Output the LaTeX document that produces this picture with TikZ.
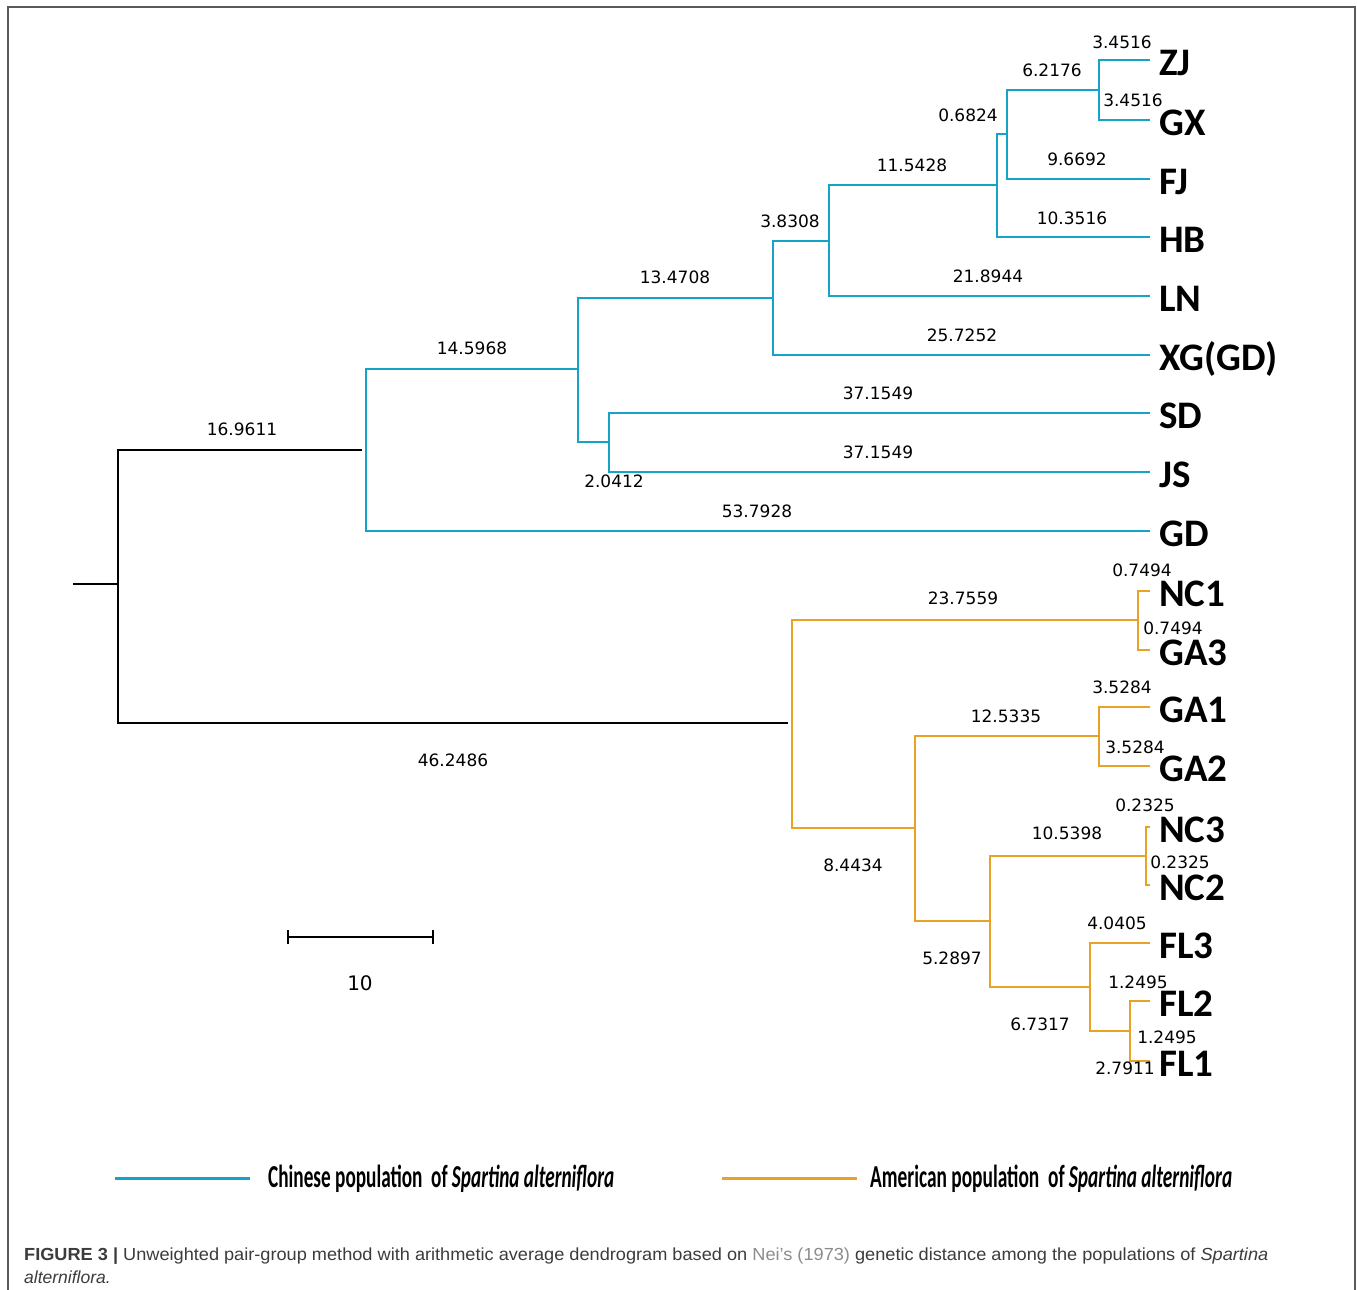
\documentclass[tikz,border=0pt]{standalone}
\usepackage{fontspec}
\usepackage{graphicx}
\setmainfont{Liberation Sans}
\newfontfamily\leaffont{Carlito}
\newfontfamily\numfont{DejaVu Sans}
\usetikzlibrary{arrows.meta}
\definecolor{cn}{RGB}{22,163,200}
\definecolor{us}{RGB}{232,162,38}
\definecolor{framec}{RGB}{90,90,90}
\definecolor{capgray}{RGB}{60,60,60}
\definecolor{neigray}{RGB}{140,140,140}
\begin{document}
\begin{tikzpicture}[x=1pt,y=-1pt,
  cnl/.style={draw=cn, line width=2.6pt},
  usl/.style={draw=us, line width=2.6pt},
  bkl/.style={draw=black, line width=2.6pt},
  leaf/.style={anchor=west, inner xsep=9pt, inner ysep=0pt, font=\leaffont\bfseries\fontsize{39}{39}\selectfont, text height=31pt, text depth=0pt},
  blen/.style={inner sep=0pt, font=\numfont\fontsize{17}{17}\selectfont, text height=12.4pt, text depth=0pt},
  legtext/.style={anchor=west, inner sep=0pt},
]
\useasboundingbox (0,0) rectangle (1357,1290);
\fill[white] (0,0) rectangle (1357,1290);

% frame
\coordinate (f1) at (8,1290);
\coordinate (f2) at (8,7);
\coordinate (f3) at (1355,7);
\coordinate (f4) at (1355,1290);
\draw[framec, line width=1.3pt] (f1) -- (f2) -- (f3) -- (f4);

% leaves
\node[leaf] (ZJ)  at (1150,60)  {ZJ};
\node[leaf] (GX)  at (1150,120) {GX};
\node[leaf] (FJ)  at (1150,179) {FJ};
\node[leaf] (HB)  at (1150,237) {HB};
\node[leaf] (LN)  at (1150,296) {LN};
\node[leaf] (XG)  at (1150,355) {XG(GD)};
\node[leaf] (SD)  at (1150,413) {SD};
\node[leaf] (JS)  at (1150,472) {JS};
\node[leaf] (GD)  at (1150,531) {GD};
\node[leaf] (NC1) at (1150,591) {NC1};
\node[leaf] (GA3) at (1150,650) {GA3};
\node[leaf] (GA1) at (1150,707) {GA1};
\node[leaf] (GA2) at (1150,766) {GA2};
\node[leaf] (NC3) at (1150,827) {NC3};
\node[leaf] (NC2) at (1150,885) {NC2};
\node[leaf] (FL3) at (1150,943) {FL3};
\node[leaf] (FL2) at (1150,1001) {FL2};
\node[leaf] (FL1) at (1150,1061) {FL1};

% internal nodes
\coordinate (stub) at (73,584);
\coordinate (root) at (118,584);
\coordinate (a1) at (1099,90);
\coordinate (a2) at (1007,134);
\coordinate (a3) at (997,185);
\coordinate (a4) at (829,241);
\coordinate (a5) at (773,298);
\coordinate (a6) at (609,442);
\coordinate (a7) at (578,369);
\coordinate (a8) at (366,450);
\coordinate (b1) at (1138,620);
\coordinate (b2) at (1099,736);
\coordinate (b3) at (1146,856);
\coordinate (b4) at (1130,1031);
\coordinate (b5) at (1090,987);
\coordinate (b6) at (990,921);
\coordinate (b7) at (915,828);
\coordinate (b8) at (792,723);

% black root
\draw[bkl] (stub) -- (root);
\draw[bkl, shorten >=4pt] (root) |- (a8);
\draw[bkl, shorten >=4pt] (root) |- (b8);

% Chinese clade
\draw[cnl] (a1) |- (ZJ.west);
\draw[cnl] (a1) |- (GX.west);
\draw[cnl] (a2) |- (a1);
\draw[cnl] (a2) |- (FJ.west);
\draw[cnl] (a3) |- (a2);
\draw[cnl] (a3) |- (HB.west);
\draw[cnl] (a4) |- (a3);
\draw[cnl] (a4) |- (LN.west);
\draw[cnl] (a5) |- (a4);
\draw[cnl] (a5) |- (XG.west);
\draw[cnl] (a6) |- (SD.west);
\draw[cnl] (a6) |- (JS.west);
\draw[cnl] (a7) |- (a5);
\draw[cnl] (a7) |- (a6);
\draw[cnl] (a8) |- (a7);
\draw[cnl] (a8) |- (GD.west);

% American clade
\draw[usl] (b1) |- (NC1.west);
\draw[usl] (b1) |- (GA3.west);
\draw[usl] (b2) |- (GA1.west);
\draw[usl] (b2) |- (GA2.west);
\draw[usl] (b3) |- (NC3.west);
\draw[usl] (b3) |- (NC2.west);
\draw[usl] (b4) |- (FL2.west);
\draw[usl] (b4) |- (FL1.west);
\draw[usl] (b5) |- (FL3.west);
\draw[usl] (b5) |- (b4);
\draw[usl] (b6) |- (b3);
\draw[usl] (b6) |- (b5);
\draw[usl] (b7) |- (b2);
\draw[usl] (b7) |- (b6);
\draw[usl] (b8) |- (b1);
\draw[usl] (b8) |- (b7);

% branch lengths
\node[blen] (l01) at (242,429) {16.9611};
\node[blen] (l02) at (453,760) {46.2486};
\node[blen] (l03) at (472,348) {14.5968};
\node[blen] (l04) at (757,511) {53.7928};
\node[blen] (l05) at (675,277) {13.4708};
\node[blen] (l06) at (878,393) {37.1549};
\node[blen] (l07) at (878,452) {37.1549};
\node[blen] (l08) at (614,481) {2.0412};
\node[blen] (l09) at (790,221) {3.8308};
\node[blen] (l10) at (912,165) {11.5428};
\node[blen] (l11) at (988,276) {21.8944};
\node[blen] (l12) at (962,335) {25.7252};
\node[blen] (l13) at (968,115) {0.6824};
\node[blen] (l14) at (1052,70) {6.2176};
\node[blen] (l15) at (1122,42) {3.4516};
\node[blen] (l16) at (1133,100) {3.4516};
\node[blen] (l17) at (1077,159) {9.6692};
\node[blen] (l18) at (1072,218) {10.3516};
\node[blen] (m01) at (963,598) {23.7559};
\node[blen] (m02) at (1142,570) {0.7494};
\node[blen] (m03) at (1173,628) {0.7494};
\node[blen] (m04) at (1006,716) {12.5335};
\node[blen] (m05) at (1122,687) {3.5284};
\node[blen] (m06) at (1135,747) {3.5284};
\node[blen] (m07) at (853,865) {8.4434};
\node[blen] (m08) at (1067,833) {10.5398};
\node[blen] (m09) at (1145,805) {0.2325};
\node[blen] (m10) at (1180,862) {0.2325};
\node[blen] (m11) at (952,958) {5.2897};
\node[blen] (m12) at (1040,1024) {6.7317};
\node[blen] (m13) at (1117,923) {4.0405};
\node[blen] (m14) at (1138,982) {1.2495};
\node[blen] (m15) at (1167,1037) {1.2495};
\node[blen] (m16) at (1125,1068) {2.7911};

% scale bar
\coordinate (sb1) at (287,937);
\coordinate (sb2) at (434,937);
\draw[line width=2pt, {Bar[width=14pt]}-{Bar[width=14pt]}] (sb1) -- (sb2);
\node[inner sep=0pt, font=\numfont\fontsize{20}{20}\selectfont] (sbl) at (360,983) {10};

% legend
\coordinate (lc1) at (115,1178);
\coordinate (lc2) at (250,1178);
\draw[cnl, line width=3pt] (lc1) -- (lc2);
\node[legtext] (ltc) at (268,1179) {\resizebox{346pt}{\height}{\leaffont\bfseries\fontsize{32}{32}\selectfont Chinese population\ \ of \textit{Spartina alterniflora}}};
\coordinate (lu1) at (722,1178);
\coordinate (lu2) at (857,1178);
\draw[usl, line width=3pt] (lu1) -- (lu2);
\node[legtext] (ltu) at (870,1179) {\resizebox{362pt}{\height}{\leaffont\bfseries\fontsize{32}{32}\selectfont American population\ \ of \textit{Spartina alterniflora}}};

% caption
\node[anchor=base west, inner sep=0pt, text=capgray] (cap1) at (24,1260) {\resizebox{1244pt}{\height}{\fontsize{17.5}{17.5}\selectfont\textbf{FIGURE 3 |} Unweighted pair-group method with arithmetic average dendrogram based on \textcolor{neigray}{Nei’s (1973)} genetic distance among the populations of \textit{Spartina}}};
\node[anchor=base west, inner sep=0pt, text=capgray] (cap2) at (24,1283) {\fontsize{17.5}{17.5}\selectfont\itshape alterniflora.};
\end{tikzpicture}
\end{document}
